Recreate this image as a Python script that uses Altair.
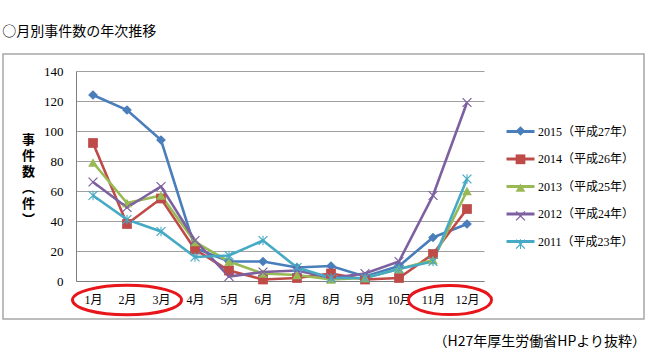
import altair as alt
import pandas as pd

# ---- data ----
months = list(range(1, 13))
series_names = ["2015（平成27年）", "2014（平成26年）", "2013（平成25年）",
                "2012（平成24年）", "2011（平成23年）"]
v2015 = [124, 114, 94, 22, 13, 13, 9, 10, 3, 10, 29, 38]
v2014 = [92, 38, 55, 21, 7, 1, 2, 5, 1, 2, 18, 48]
v2013 = [79, 52, 57, 26, 13, 5, 4, 1, 2, 8, 14, 60]
v2012 = [66, 49, 63, 27, 3, 6, 7, 2, 5, 13, 57, 119]
v2011 = [57, 41, 33, 16, 17, 27, 9, 2, 2, 8, 13, 68]
y_ticks = [0, 20, 40, 60, 80, 100, 120, 140]
title_text = "○月別事件数の年次推移"
source_text = "（H27年厚生労働省HPより抜粋）"
y_title = ["事", "件", "数", "︵", "件", "︶"]
highlight_centers = [2, 11.5]   # months circled in red

rows = []
for name, vals in zip(series_names, [v2015, v2014, v2013, v2012, v2011]):
    for m, v in zip(months, vals):
        rows.append({"series": name, "month": m, "count": v})
df = pd.DataFrame(rows)

colors = ["#4A7EBB", "#BE4B48", "#98B954", "#7D60A0", "#46AAC5"]
X_PATH = "M-1,-0.82L-0.82,-1L1,0.82L0.82,1Z M-1,0.82L0.82,-1L1,-0.82L-0.82,1Z"
AST_PATH = X_PATH + " M-0.11,-1L0.11,-1L0.11,1L-0.11,1Z"
shapes = ["diamond", "square", "triangle-up", X_PATH, AST_PATH]


def ellipse(r):
    k = 0.5523
    return (f"M-1,0C-1,{-r*k:.3f} {-k},{-r} 0,{-r}C{k},{-r} 1,{-r*k:.3f} 1,0"
            f"C1,{r*k:.3f} {k},{r} 0,{r}C{-k},{r} -1,{r*k:.3f} -1,0Z")


NUM_FONT = "Liberation Serif, Noto Sans CJK JP"
JP_FONT = "Noto Sans CJK JP"

xscale = alt.Scale(domain=[0.5, 12.5], nice=False, zero=False)
yscale = alt.Scale(domain=[0, 140], nice=False)

x_axis = alt.Axis(values=months, labelExpr="datum.value + '月'", grid=False,
                  ticks=False, domainColor="#808080", labelFont=NUM_FONT,
                  labelFontSize=12, labelColor="#000", labelPadding=13, title=None)
y_axis = alt.Axis(values=y_ticks, grid=True, gridColor="#a0a0a0", ticks=False,
                  domainColor="#808080", labelFont=NUM_FONT, labelFontSize=13,
                  labelColor="#000", labelPadding=13, labelOverlap=False,
                  title=y_title, titleAngle=0, titleX=-48, titleY=68,
                  titleAlign="center", titleBaseline="middle",
                  titleFont=JP_FONT, titleFontSize=13, titleFontWeight="bold",
                  titleLineHeight=16, titleColor="#000")

legend_b = alt.Legend(title=None, orient="none", legendX=438.5, legendY=54,
                      direction="vertical", symbolSize=95,
                      labelExpr="''", labelFontSize=12, labelOffset=0,
                      rowPadding=12.3, padding=0)

base = alt.Chart(df)

lines = base.mark_line(strokeWidth=2.6).encode(
    x=alt.X("month:Q", scale=xscale, axis=x_axis),
    y=alt.Y("count:Q", scale=yscale, axis=y_axis),
    stroke=alt.Stroke("series:N", sort=series_names, scale=alt.Scale(range=colors),
                      legend=alt.Legend(title=None, orient="none", legendX=429, legendY=45,
                                        direction="vertical", symbolType="stroke",
                                        symbolSize=784, symbolStrokeWidth=3,
                                        labelFont=NUM_FONT, labelFontSize=12,
                                        labelColor="#000", labelOffset=2,
                                        rowPadding=5.5, padding=0)),
    detail="series:N",
)

points = base.mark_point(filled=True, size=95, opacity=1).encode(
    x=alt.X("month:Q", scale=xscale, axis=x_axis),
    y=alt.Y("count:Q", scale=yscale, axis=y_axis),
    fill=alt.Fill("series:N", scale=alt.Scale(domain=series_names, range=colors),
                  legend=legend_b),
    shape=alt.Shape("series:N", scale=alt.Scale(domain=series_names, range=shapes),
                    legend=legend_b),
)

ann1 = alt.Chart(pd.DataFrame({"center": [highlight_centers[0]]})).mark_point(
    shape=ellipse(0.27), size=109 ** 2, filled=False, stroke="#E8161B",
    strokeWidth=3, opacity=1).encode(
    x=alt.X("center:Q", scale=xscale, axis=x_axis),
    y=alt.YDatum(-12.7, scale=yscale, axis=y_axis),
)
ann2 = alt.Chart(pd.DataFrame({"center": [highlight_centers[1]]})).mark_point(
    shape=ellipse(0.35), size=83 ** 2, filled=False, stroke="#E8161B",
    strokeWidth=3, opacity=1).encode(
    x=alt.X("center:Q", scale=xscale, axis=x_axis),
    y=alt.YDatum(-12.7, scale=yscale, axis=y_axis),
)

frame = alt.Chart(pd.DataFrame({"k": [0]})).mark_rect(
    fillOpacity=0, stroke="#A6A6A6", strokeWidth=1.5).encode(
    x=alt.value(-73), x2=alt.value(568), y=alt.value(-17), y2=alt.value(248))

note = alt.Chart(pd.DataFrame({"t": [source_text]})).mark_text(
    align="right", baseline="middle", font=JP_FONT, fontSize=14, color="#000").encode(
    x=alt.value(570), y=alt.value(271), text="t:N")

chart = alt.layer(frame, lines, points, ann1, ann2, note).properties(
    width=408, height=210,
    title=alt.Title(title_text, anchor="start", frame="bounds", fontSize=14,
                    font=JP_FONT, fontWeight="normal", color="#000", offset=14),
    autosize=alt.AutoSizeParams(type="none"),
    padding={"left": 76, "top": 71, "right": 169, "bottom": 73},
).configure_view(stroke=None)

chart.save("out.html", embed_options={"renderer": "svg", "actions": False})
